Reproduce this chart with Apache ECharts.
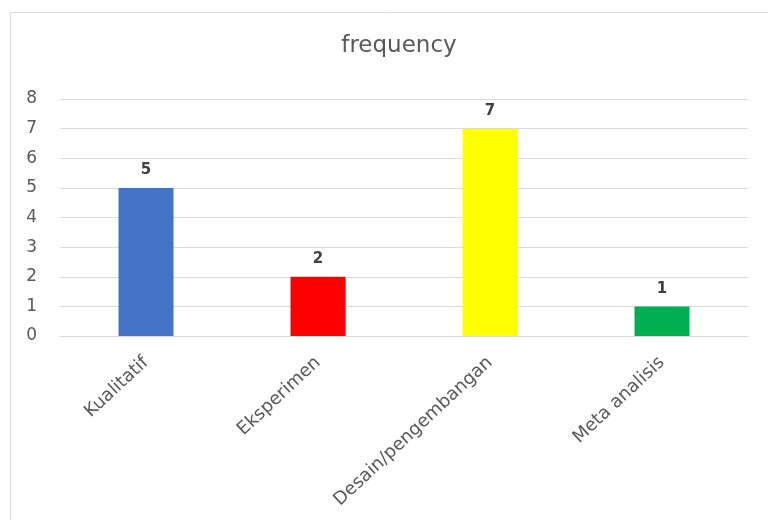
<!DOCTYPE html>
<html><head><meta charset="utf-8">
<script src="https://cdn.jsdelivr.net/npm/echarts@6/dist/echarts.min.js"></script>
<style>html,body{margin:0;padding:0;background:#fff}#c{width:768px;height:520px}</style>
</head><body><div id="c"></div>
<script>
const categories = ["Kualitatif", "Eksperimen", "Desain/pengembangan", "Meta analisis"];
const values = [5, 2, 7, 1];
const barColors = ["#4472C4", "#FF0000", "#FFFF00", "#00B050"];
const yTicks = [0, 1, 2, 3, 4, 5, 6, 7, 8];

const chart = echarts.init(document.getElementById('c'), null, {renderer: 'canvas'});
chart.setOption({
  animation: false,
  backgroundColor: '#ffffff',
  graphic: [{
    type: 'rect', shape: {x: 10.5, y: 12.5, width: 800, height: 600},
    style: {fill: 'none', stroke: '#d9d9d9', lineWidth: 1}, silent: true
  }],
  title: {
    text: 'frequency', left: 394, top: 30, textAlign: 'center',
    textStyle: {fontFamily: 'DejaVu Sans', fontSize: 23, fontWeight: 'normal', color: '#595959'}
  },
  grid: {left: 60, right: 20, top: 99, bottom: 184, containLabel: false},
  xAxis: {
    type: 'category', data: categories,
    axisLine: {show: true, lineStyle: {color: '#d9d9d9'}},
    axisTick: {show: false},
    axisLabel: {rotate: 43, interval: 0, margin: 24, fontFamily: 'DejaVu Sans', fontSize: 18, color: '#595959'}
  },
  yAxis: {
    type: 'value', min: yTicks[0], max: yTicks[yTicks.length - 1], interval: 1,
    axisLine: {show: false}, axisTick: {show: false},
    splitLine: {lineStyle: {color: '#d9d9d9'}},
    axisLabel: {margin: 23, fontFamily: 'DejaVu Sans', fontSize: 17, color: '#595959'}
  },
  series: [{
    type: 'bar', barWidth: 55,
    data: values.map((v, i) => ({value: v, itemStyle: {color: barColors[i]}})),
    label: {show: true, position: 'top', distance: 10, fontFamily: 'DejaVu Sans', fontSize: 15, fontWeight: 'bold', color: '#404040'}
  }]
});
</script></body></html>
